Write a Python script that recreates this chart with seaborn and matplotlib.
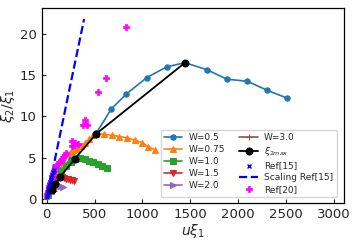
import matplotlib
matplotlib.use("Agg")
import matplotlib.pyplot as plt
import seaborn as sns
import pandas as pd

# W = 0.5
w05_x = [10, 40, 90, 160, 250, 370, 520, 676, 832, 1047, 1255, 1446, 1675, 1883, 2098, 2306, 2514]
w05_y = [0.5, 1.3, 2.4, 3.6, 4.9, 6.4, 8.0, 10.9, 12.7, 14.7, 16.0, 16.5, 15.65, 14.5, 14.25, 13.15, 12.2]
# W = 0.75
w075_x = [10, 40, 80, 130, 180, 242, 270, 312, 354, 398, 443, 485, 520, 600, 680, 760, 840, 920, 1000, 1060, 1130]
w075_y = [0.5, 1.3, 2.3, 3.3, 4.3, 5.6, 5.95, 6.07, 6.35, 6.75, 7.25, 7.7, 7.9, 7.8, 7.7, 7.55, 7.4, 7.1, 6.8, 6.3, 5.95]
# W = 1.0
w10_x = [10, 30, 60, 100, 150, 200, 250, 294, 346, 398, 443, 485, 537, 582, 631]
w10_y = [0.5, 1.1, 1.8, 2.6, 3.4, 4.0, 4.5, 4.85, 4.9, 4.78, 4.6, 4.4, 4.2, 4.0, 3.75]
# W = 1.5
w15_x = [5, 20, 45, 75, 105, 138, 160, 180, 201, 222, 242, 262, 284]
w15_y = [0.3, 0.8, 1.4, 1.9, 2.3, 2.63, 2.6, 2.55, 2.43, 2.38, 2.3, 2.25, 2.18]
# W = 2.0
w20_x = [5, 15, 30, 50, 70, 90, 110, 130, 150, 173]
w20_y = [0.3, 0.6, 1.0, 1.4, 1.7, 1.75, 1.68, 1.6, 1.5, 1.42]
# W = 3.0
w30_x = [3, 10, 20, 35, 50, 63, 76]
w30_y = [0.2, 0.45, 0.7, 0.95, 1.05, 1.0, 0.95]
# xi_2max
max_x = [50, 90, 138, 294, 520, 1446]
max_y = [1.05, 1.75, 2.63, 4.85, 7.9, 16.5]
# Ref[15]
r15_x = [3, 6, 10, 14, 18, 23, 28, 34, 40, 47, 55, 63, 72]
r15_y = [0.25, 0.45, 0.7, 0.95, 1.2, 1.45, 1.7, 2.0, 2.3, 2.6, 2.9, 3.2, 3.5]
# Scaling Ref[15]
sc_x = [8, 200, 391]
sc_y = [0.4, 11.2, 21.8]
# Ref[20]
r20_x = [5, 10, 15, 20, 28, 35, 42, 50, 60, 70, 80, 90, 100, 115, 130, 145, 160, 175, 190, 205,
         260, 266, 280, 294, 322, 374, 398, 422, 537, 624, 832]
r20_y = [0.4, 0.7, 1.0, 1.3, 1.6, 1.9, 2.2, 2.5, 2.8, 3.1, 3.4, 3.7, 3.95, 4.2, 4.4, 4.6, 4.85, 5.1, 5.3, 5.5,
         6.35, 6.95, 6.5, 6.75, 6.7, 8.9, 9.6, 9.0, 13.0, 14.65, 20.8]

sns.set_style("ticks")
plt.rcParams['font.family'] = ['DejaVu Sans']

fig = plt.figure(figsize=(3.57, 2.43), dpi=100)
ax = fig.add_axes([0.117, 0.165, 0.847, 0.801])

series = [
    ("W=0.5", w05_x, w05_y, "o", "C0"),
    ("W=0.75", w075_x, w075_y, "^", "C1"),
    ("W=1.0", w10_x, w10_y, "s", "C2"),
    ("W=1.5", w15_x, w15_y, "v", "C3"),
    ("W=2.0", w20_x, w20_y, ">", "C4"),
    ("W=3.0", w30_x, w30_y, "+", "C5"),
]
for lab, xs, ys, mk, col in series:
    df = pd.DataFrame({"x": xs, "y": ys})
    sns.lineplot(data=df, x="x", y="y", ax=ax, color=col, marker=mk, markersize=3.8,
                 markeredgecolor=col, markerfacecolor=col,
                 markeredgewidth=0.8, linewidth=1.2, label=lab,
                 sort=False, estimator=None)

dfm = pd.DataFrame({"x": max_x, "y": max_y})
sns.lineplot(data=dfm, x="x", y="y", ax=ax, color="black", marker="o", markersize=5,
             markeredgecolor="black", markerfacecolor="black",
             linewidth=1.3, label=r"$\xi_{2max}$", sort=False, estimator=None, zorder=5)

df15 = pd.DataFrame({"x": r15_x, "y": r15_y})
sns.scatterplot(data=df15, x="x", y="y", ax=ax, color="blue", marker="x", s=8,
                linewidth=1.0, label="Ref[15]", zorder=4)

dfs = pd.DataFrame({"x": sc_x, "y": sc_y})
sns.lineplot(data=dfs, x="x", y="y", ax=ax, color="blue", linestyle="--", linewidth=1.6,
             label="Scaling Ref[15]", sort=False, estimator=None)

df20 = pd.DataFrame({"x": r20_x, "y": r20_y})
sns.scatterplot(data=df20, x="x", y="y", ax=ax, color="magenta", marker="P", s=18,
                edgecolor="magenta", linewidth=0.5, label="Ref[20]", zorder=3)

ax.set_xlim(-52, 3110)
ax.set_ylim(-0.5, 23.1)
ax.set_xticks([0, 500, 1000, 1500, 2000, 2500, 3000])
ax.set_yticks([0, 5, 10, 15, 20])
ax.tick_params(direction="in", labelsize=9.5, length=3, width=0.8)
for sp in ax.spines.values():
    sp.set_visible(True)
    sp.set_linewidth(0.9)
    sp.set_color("black")
ax.set_xlabel(r"$u\xi_1$", fontsize=10, labelpad=1)
ax.set_ylabel(r"$\xi_2/\xi_1$", fontsize=10, labelpad=2)

ax.legend(ncol=2, loc="lower right", fontsize=6.5, frameon=True, handlelength=2.0,
          borderpad=0.4, labelspacing=0.32, columnspacing=1.6, handletextpad=0.7,
          bbox_to_anchor=(0.99, 0.005))

fig.savefig("out.png", dpi=100)
